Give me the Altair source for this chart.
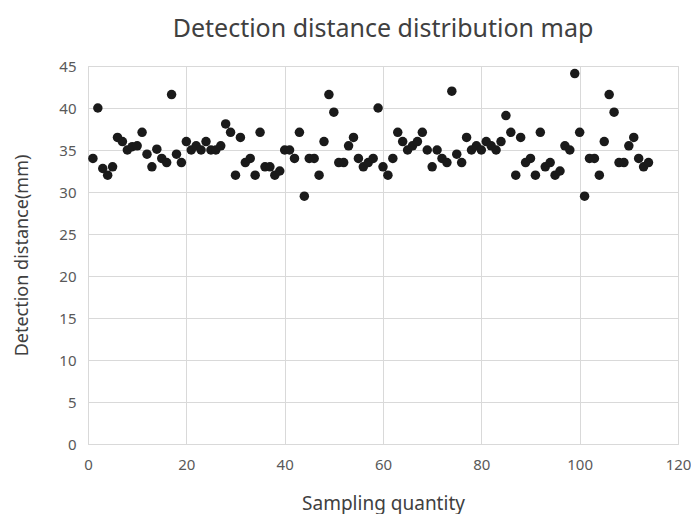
import altair as alt
import pandas as pd

sample_index = list(range(1, 115))
distance_mm = [
    34.0, 40.0, 32.8, 32.0, 33.0, 36.5, 36.0, 35.0, 35.4, 35.5,
    37.1, 34.5, 33.0, 35.1, 34.0, 33.5, 41.6, 34.5, 33.5, 36.0,
    35.0, 35.5, 35.0, 36.0, 35.0, 35.0, 35.5, 38.1, 37.1, 32.0,
    36.5, 33.5, 34.0, 32.0, 37.1, 33.0, 33.0, 32.0, 32.5, 35.0,
    35.0, 34.0, 37.1, 29.5, 34.0, 34.0, 32.0, 36.0, 41.6, 39.5,
    33.5, 33.5, 35.5, 36.5, 34.0, 33.0, 33.5, 34.0, 40.0, 33.0,
    32.0, 34.0, 37.1, 36.0, 35.0, 35.5, 36.0, 37.1, 35.0, 33.0,
    35.0, 34.0, 33.5, 42.0, 34.5, 33.5, 36.5, 35.0, 35.5, 35.0,
    36.0, 35.5, 35.0, 36.0, 39.1, 37.1, 32.0, 36.5, 33.5, 34.0,
    32.0, 37.1, 33.0, 33.5, 32.0, 32.5, 35.5, 35.0, 44.1, 37.1,
    29.5, 34.0, 34.0, 32.0, 36.0, 41.6, 39.5, 33.5, 33.5, 35.5,
    36.5, 34.0, 33.0, 33.5,
]

df = pd.DataFrame({"n": sample_index, "d": distance_mm})

FONT = "Noto Sans"
GRID = "#d9d9d9"

chart = (
    alt.Chart(df)
    .mark_circle(size=90, color="#1a1a1a", opacity=1)
    .encode(
        x=alt.X(
            "n:Q",
            scale=alt.Scale(domain=[0, 120], nice=False, zero=True),
            axis=alt.Axis(
                title="Sampling quantity",
                values=[0, 20, 40, 60, 80, 100, 120],
                grid=True,
                gridColor=GRID,
                domainColor=GRID,
                ticks=False,
                labelFlush=False,
                labelPadding=13,
                titleY=65,
                titleBaseline="alphabetic",
                labelFontSize=15,
                titleFontSize=19,
                labelColor="#595959",
                titleColor="#404040",
                labelFont=FONT,
                titleFont=FONT,
                titleFontWeight="normal",
            ),
        ),
        y=alt.Y(
            "d:Q",
            scale=alt.Scale(domain=[0, 45], nice=False),
            axis=alt.Axis(
                title="Detection distance(mm)",
                values=list(range(0, 46, 5)),
                grid=True,
                gridColor=GRID,
                domainColor=GRID,
                ticks=False,
                labelFlush=False,
                labelPadding=12,
                titlePadding=27,
                labelFontSize=15,
                titleFontSize=18,
                labelColor="#595959",
                titleColor="#404040",
                labelFont=FONT,
                titleFont=FONT,
                titleFontWeight="normal",
            ),
        ),
    )
    .properties(
        width=590,
        height=378,
        title=alt.TitleParams(
            "Detection distance distribution map",
            fontSize=25,
            font=FONT,
            fontWeight="normal",
            color="#404040",
            offset=17,
        ),
        autosize=alt.AutoSizeParams(type="none"),
        padding={"left": 80, "top": 58, "right": 13, "bottom": 70},
    )
    .configure_view(stroke=GRID)
)

chart.save("out.html", embed_options={"renderer": "svg", "actions": False})
